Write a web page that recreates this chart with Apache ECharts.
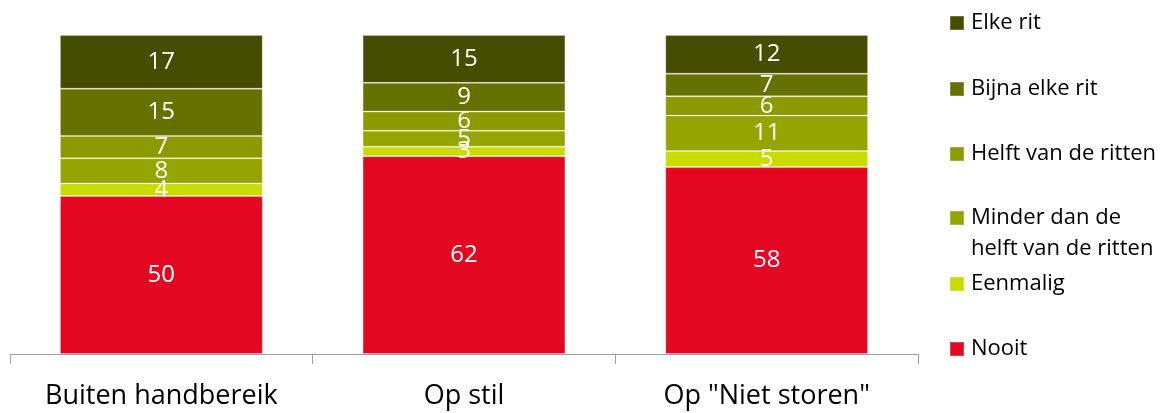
<!DOCTYPE html>
<html>
<head>
<meta charset="utf-8">
<script src="https://cdn.jsdelivr.net/npm/echarts@6/dist/echarts.min.js"></script>
<style>
html,body{margin:0;padding:0;background:#fff;}
#c{width:1176px;height:413px;}
</style>
</head>
<body>
<div id="c"></div>
<script>
const categories = ['Buiten handbereik', 'Op stil', 'Op "Niet storen"'];
const seriesNames = ['Nooit', 'Eenmalig', 'Minder dan de helft van de ritten', 'Helft van de ritten', 'Bijna elke rit', 'Elke rit'];
const nooit = [50, 62, 58];
const eenmalig = [4, 3, 5];
const minderDanHelft = [8, 5, 11];
const helft = [7, 6, 6];
const bijnaElke = [15, 9, 7];
const elkeRit = [17, 15, 12];

const colors = ['#E30722', '#C8DC00', '#96A400', '#8C9A00', '#667200', '#454D00'];
const seriesValues = [nooit, eenmalig, minderDanHelft, helft, bijnaElke, elkeRit];
const totals = categories.map((_, i) => seriesValues.reduce((s, arr) => s + arr[i], 0));

const FONT = 'Open Sans';

const series = seriesNames.map((name, k) => ({
  name: name,
  type: 'bar',
  stack: 'total',
  barCategoryGap: '33%',
  itemStyle: { color: colors[k], borderColor: 'rgba(255,255,255,0.22)', borderWidth: 1 },
  label: {
    show: true,
    position: 'inside',
    color: '#fff',
    fontFamily: FONT,
    fontSize: 24,
    formatter: p => String(seriesValues[k][p.dataIndex])
  },
  data: seriesValues[k].map((v, i) => v / totals[i] * 100)
}));

// legend: one component per item (top to bottom: Elke rit ... Nooit)
const legendOrder = ['Elke rit', 'Bijna elke rit', 'Helft van de ritten', 'Minder dan de helft van de ritten', 'Eenmalig', 'Nooit'];
const legendCenters = [23, 89, 154, 218, 284, 349];
const legends = legendOrder.map((n, i) => ({
  data: [n],
  left: 949,
  top: legendCenters[i] - 15,
  padding: 0,
  orient: 'vertical',
  icon: 'rect',
  itemWidth: 14,
  itemHeight: 14,
  itemGap: 8,
  selectedMode: false,
  formatter: nm => nm === 'Minder dan de helft van de ritten' ? 'Minder dan de' : nm,
  textStyle: { fontFamily: FONT, fontSize: 22, color: '#000', lineHeight: 30, padding: [0, 0, 0, 2] }
}));

const chart = echarts.init(document.getElementById('c'), null, { renderer: 'canvas' });
chart.setOption({
  animation: false,
  color: colors,
  legend: legends,
  grid: { left: 10, right: 258, top: 35, bottom: 59, containLabel: false },
  xAxis: {
    type: 'category',
    data: categories,
    axisLine: { lineStyle: { color: '#A0A0A0', width: 1 } },
    axisTick: { show: true, length: 10, lineStyle: { color: '#A0A0A0' } },
    axisLabel: { color: '#000', fontFamily: FONT, fontSize: 27, margin: 29 }
  },
  yAxis: { type: 'value', min: 0, max: 100, show: false, splitLine: { show: false } },
  graphic: [{
    type: 'text',
    left: 971,
    top: legendCenters[3] + 20,
    style: { text: 'helft van de ritten', font: '22px "' + FONT + '"', fill: '#000' }
  }],
  series: series
});
</script>
</body>
</html>
